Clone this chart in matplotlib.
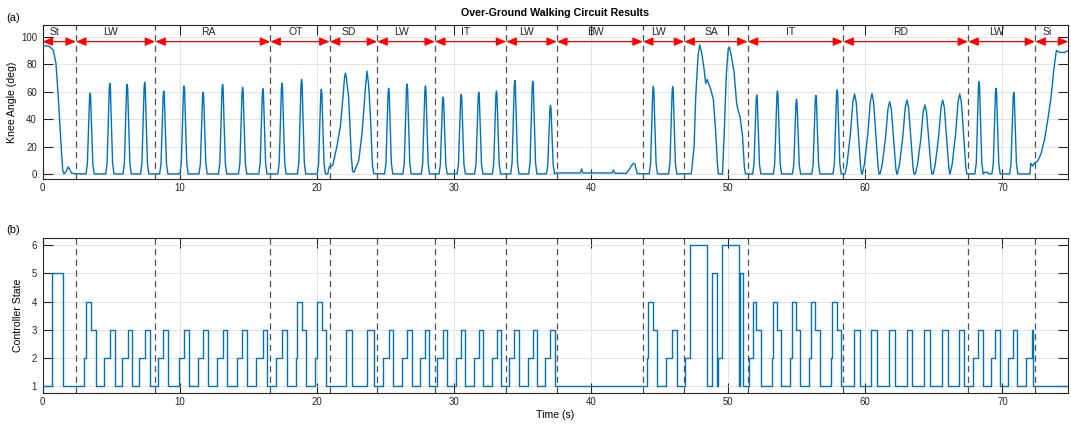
import numpy as np
import matplotlib.pyplot as plt
from matplotlib.patches import ArrowStyle

plt.rcParams['font.family'] = ['Liberation Sans', 'DejaVu Sans']

# activity segments (s) and their labels
seg_edges = [0, 2.44, 8.22, 16.61, 20.94, 24.41, 28.62, 33.82, 37.51, 43.78,
             46.80, 51.42, 58.39, 67.50, 72.39, 74.8]
seg_labels = ['St', 'LW', 'RA', 'OT', 'SD', 'LW', 'IT', 'LW', 'BW', 'LW',
              'SA', 'IT', 'RD', 'LW', 'Si']

# swing peaks of the normal strides: time (s), knee angle (deg)
gait_peak_t = [3.47, 4.91, 6.17, 7.45,
               8.84, 10.32, 11.71, 13.13, 14.59, 16.07,
               17.46, 18.89, 20.33,
               25.24, 26.58, 27.92,
               29.21, 30.53, 31.81, 33.10,
               34.44, 35.75, 37.04,
               44.54, 45.95,
               52.08, 53.59, 54.98, 56.39, 57.94,
               68.29, 69.53, 70.82]
gait_peak_deg = [58.9, 66.0, 65.4, 66.8,
                 60.5, 64.2, 59.6, 65.4, 63.2, 62.2,
                 66.1, 69.0, 61.8,
                 62.5, 65.6, 64.2,
                 56.2, 58.1, 59.6, 60.5,
                 68.2, 67.6, 50.1,
                 63.7, 63.7,
                 57.6, 60.5, 54.5, 57.4, 61.3,
                 67.3, 62.5, 59.6]
# ramp descent peaks (wider)
rd_peak_t = [59.21, 60.48, 61.77, 63.03, 64.34, 65.64, 66.88]
rd_peak_deg = [58.4, 58.6, 52.8, 54.0, 50.4, 54.0, 58.4]

# shape of one peak: offset (s), fraction of peak height
gait_shape_dt = [-0.30, -0.20, -0.10, -0.04, 0.0, 0.04, 0.10, 0.20, 0.30]
gait_shape_frac = [0.0, 0.12, 0.62, 0.95, 1.0, 0.95, 0.62, 0.12, 0.0]
rd_shape_dt = [-0.70, -0.55, -0.30, -0.12, 0.0, 0.12, 0.30, 0.45, 0.52]
rd_shape_frac = [0.0, 0.12, 0.50, 0.90, 1.0, 0.90, 0.45, 0.08, 0.0]
base_deg = 0.3

# stretches read point by point (sit/stand, stairs down, backward walk, stairs up, sit)
knee_extra = [
    (0.0, 93.5), (0.45, 93.2), (0.6, 92.0), (0.79, 90.0), (0.98, 80.6), (1.15, 56.0),
    (1.32, 27.0), (1.47, 3.0), (1.57, 0.3), (1.72, 2.0), (1.88, 5.5), (2.0, 3.0),
    (2.13, 0.9), (2.4, 0.4),
    (20.7, 0.3), (20.8, 0.3), (20.91, 5.5), (21.16, 6.5), (21.46, 20.0), (21.72, 35.0),
    (21.91, 56.0), (22.03, 71.0), (22.08, 73.4), (22.16, 70.0), (22.32, 56.0),
    (22.52, 13.0), (22.61, 2.0), (22.71, 1.5), (22.86, 5.0), (23.06, 10.0),
    (23.3, 30.0), (23.54, 62.0), (23.66, 75.0), (23.78, 65.0), (23.91, 42.0),
    (24.06, 6.0), (24.16, 0.5),
    (37.45, 1.0), (39.22, 1.0), (39.31, 4.0), (39.4, 1.0), (41.53, 1.0), (41.62, 3.1),
    (41.72, 0.8), (42.56, 0.7), (42.75, 3.0), (42.96, 6.5), (43.1, 8.0), (43.2, 7.5),
    (43.3, 3.0), (43.37, 0.5),
    (47.31, 0.5), (47.51, 20.0), (47.63, 56.0), (47.8, 86.0), (47.92, 94.0),
    (48.05, 89.0), (48.22, 78.0), (48.36, 66.0), (48.47, 69.0), (48.56, 66.0),
    (48.72, 62.0), (48.92, 54.0), (49.09, 30.0), (49.21, 8.0), (49.28, 0.3),
    (49.58, 0.3), (49.7, 28.0), (49.86, 72.0), (50.0, 91.0), (50.08, 92.5),
    (50.21, 87.0), (50.43, 74.0), (50.61, 52.0), (50.71, 47.0), (50.86, 42.0),
    (51.04, 28.0), (51.18, 5.0), (51.26, 0.3),
    (68.62, 0.4), (68.7, 1.5), (68.9, 1.5), (68.98, 0.4),
    (72.0, 0.3), (72.06, 8.0), (72.2, 6.0), (72.36, 8.5), (72.56, 9.5), (72.81, 15.0),
    (73.06, 25.0), (73.3, 39.5), (73.54, 56.0), (73.74, 76.0), (73.93, 90.0),
    (74.15, 88.6), (74.51, 88.6), (74.8, 90.0),
]

# controller state changes: time (s), new state
state_t = [0, 0.72, 1.52,
           3.05, 3.17, 3.51, 3.88, 4.51, 4.92, 5.26, 5.82, 6.21, 6.55, 7.06, 7.47, 7.82,
           8.45, 8.81, 9.17, 9.95, 10.34, 10.70, 11.31, 11.73, 12.07, 12.70, 13.14, 13.48,
           14.16, 14.57, 14.91, 15.57, 16.05, 16.39,
           17.03, 17.49, 17.83, 18.46, 18.53, 18.90, 19.21, 19.89, 19.99, 20.36, 20.67,
           22.11, 22.59, 23.68, 24.17,
           24.85, 25.27, 25.58, 26.23, 26.60, 26.92, 27.52, 27.89, 28.20,
           28.79, 29.18, 29.52, 30.13, 30.51, 30.83, 31.46, 31.80, 32.14, 32.75, 33.12, 33.45,
           34.04, 34.40, 34.74, 35.38, 35.74, 36.06, 36.66, 37.00, 37.35,
           44.05, 44.17, 44.49, 44.83, 45.46, 45.90, 46.24,
           46.85, 47.18, 48.47, 48.84, 49.16, 49.22, 49.54, 50.76, 50.84, 51.05,
           51.51, 51.80, 52.02, 52.39, 53.17, 53.24, 53.58, 53.85, 54.53, 54.63, 54.97, 55.23,
           55.91, 56.03, 56.35, 56.69, 57.47, 57.57, 57.91, 58.25,
           59.15, 59.64, 60.44, 60.85, 61.72, 62.16, 63.01, 63.42, 64.30, 64.73,
           65.61, 66.02, 66.80, 67.21,
           67.82, 68.19, 68.55, 69.14, 69.47, 69.79, 70.38, 70.74, 71.08, 71.73, 72.12, 72.20,
           74.8]
state_val = [1, 5, 1,
             2, 4, 3, 1, 2, 3, 1, 2, 3, 1, 2, 3, 1,
             2, 3, 1, 2, 3, 1, 2, 3, 1, 2, 3, 1,
             2, 3, 1, 2, 3, 1,
             2, 3, 1, 2, 4, 3, 1, 2, 4, 3, 1,
             3, 1, 3, 1,
             2, 3, 1, 2, 3, 1, 2, 3, 1,
             2, 3, 1, 2, 3, 1, 2, 3, 1, 2, 3, 1,
             2, 3, 1, 2, 3, 1, 2, 3, 1,
             2, 4, 3, 1, 2, 3, 1,
             2, 6, 1, 5, 1, 2, 6, 1, 5, 1,
             2, 4, 3, 1, 2, 4, 3, 1, 2, 4, 3, 1,
             2, 4, 3, 1, 2, 4, 3, 1,
             3, 1, 3, 1, 3, 1, 3, 1, 3, 1,
             3, 1, 3, 1,
             2, 3, 1, 2, 3, 1, 2, 3, 1, 2, 3, 1,
             1]

# build the knee trace from the read points and peaks
pts = list(knee_extra)
for tp, h in zip(gait_peak_t, gait_peak_deg):
    for dt, f in zip(gait_shape_dt, gait_shape_frac):
        pts.append((tp + dt, base_deg + f * (h - base_deg)))
for tp, h in zip(rd_peak_t, rd_peak_deg):
    for dt, f in zip(rd_shape_dt, rd_shape_frac):
        pts.append((tp + dt, base_deg + f * (h - base_deg)))
pts.sort()
knee_t = np.array([p[0] for p in pts])
knee_deg = np.array([p[1] for p in pts])

blue = '#0072BD'
fig = plt.figure(figsize=(10.71, 4.25), dpi=100)
ax1 = fig.add_axes([0.0397, 0.5788, 0.9578, 0.3631])
ax2 = fig.add_axes([0.0397, 0.0746, 0.9578, 0.3647])

for ax in (ax1, ax2):
    ax.set_xlim(0, 74.8)
    ax.set_xticks(np.arange(0, 71, 10))
    ax.grid(True, color='#dfdfdf', lw=0.6)
    ax.set_axisbelow(True)
    ax.tick_params(direction='in', top=True, right=True, length=7, width=0.8,
                   labelsize=6.9, colors='#262626', labelcolor='#262626')
    ax.tick_params(axis='x', pad=3)
    ax.tick_params(axis='y', pad=4)
    for s in ax.spines.values():
        s.set_linewidth(0.8)
        s.set_color('#262626')
    for e in seg_edges[1:-1]:
        ax.axvline(e, color='#505050', lw=0.9, ls=(0, (5, 3.5)), zorder=1.5)

# (a) knee angle
ax1.plot(knee_t, knee_deg, color=blue, lw=1.0, zorder=3)
ax1.set_ylim(-3.4, 108.7)
ax1.set_yticks(np.arange(0, 101, 20))
ax1.set_ylabel('Knee Angle (deg)', fontsize=7.6, labelpad=3)
ax1.set_title('Over-Ground Walking Circuit Results', fontsize=7.7, fontweight='bold', pad=6)
arr = ArrowStyle('<|-|>', head_length=0.6, head_width=0.25)
for i in range(len(seg_labels)):
    a, b = seg_edges[i], seg_edges[i + 1]
    ax1.annotate('', xy=(b, 96.4), xytext=(a, 96.4),
                 arrowprops=dict(arrowstyle=arr, color='red', lw=0.9,
                                 shrinkA=0, shrinkB=0, mutation_scale=10), zorder=4)
    ax1.text((a + b) / 2 - 0.35, 103.6, seg_labels[i], ha='center', va='center',
             fontsize=7.5, color='#262626')

# (b) controller state
ax2.step(state_t, state_val, where='post', color=blue, lw=1.0, zorder=3)
ax2.set_ylim(0.74, 6.25)
ax2.set_yticks(np.arange(1, 7))
ax2.set_ylabel('Controller State', fontsize=7.6, labelpad=6)
ax2.set_xlabel('Time (s)', fontsize=7.6, labelpad=2)

fig.text(0.006, 1 - 18 / 425, '(a)', fontsize=8, va='center')
fig.text(0.006, 1 - 230 / 425, '(b)', fontsize=8, va='center')

fig.savefig('out.png', dpi=100)
